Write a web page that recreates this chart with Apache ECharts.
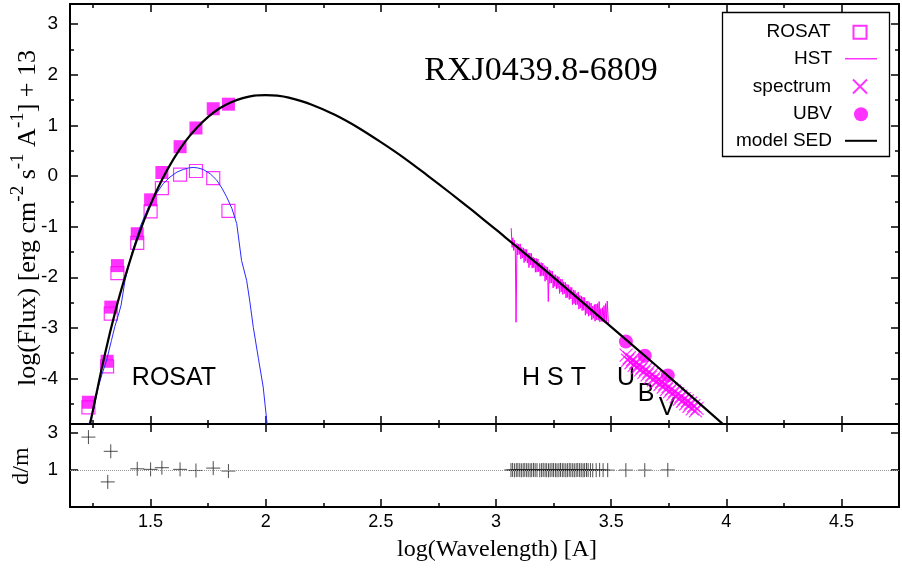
<!DOCTYPE html>
<html><head><meta charset="utf-8">
<script src="https://cdn.jsdelivr.net/npm/echarts@6/dist/echarts.min.js"></script>
<style>html,body{margin:0;padding:0;background:#fff}#c{width:902px;height:571px}</style>
</head><body><div id="c"></div>
<script>
// ---- data ----
const rosatX      = [1.230, 1.311, 1.327, 1.356, 1.442, 1.500, 1.549, 1.628, 1.697, 1.772, 1.838];
const rosatObsY   = [-4.57, -3.76, -2.72, -1.92, -1.32, -0.70, -0.24, 0.03, 0.10, -0.04, -0.69];
const rosatUnabsY = [-4.47, -3.66, -2.59, -1.77, -1.14, -0.47, 0.07, 0.58, 0.95, 1.33, 1.42];

const modelX = [1.237, 1.25, 1.30, 1.35, 1.40, 1.45, 1.50, 1.55, 1.60, 1.65, 1.70, 1.75, 1.80, 1.85, 1.90, 1.95, 2.00, 2.05, 2.10, 2.20, 2.30, 2.40, 2.50, 2.60, 2.70, 2.80, 2.90, 3.00, 3.20, 3.40, 3.60, 3.80, 4.00];
const modelY = [-4.91, -4.62, -3.55, -2.62, -1.83, -1.14, -0.56, -0.07, 0.34, 0.68, 0.95, 1.17, 1.34, 1.46, 1.54, 1.59, 1.60, 1.59, 1.55, 1.41, 1.21, 0.96, 0.67, 0.36, 0.02, -0.33, -0.69, -1.06, -1.81, -2.59, -3.37, -4.16, -4.96];

const absX = [1.232, 1.250, 1.273, 1.290, 1.309, 1.330, 1.345, 1.360, 1.372, 1.389, 1.420, 1.454, 1.490, 1.526, 1.555, 1.584, 1.615, 1.642, 1.665, 1.685, 1.705, 1.729, 1.760, 1.787, 1.810, 1.830, 1.853, 1.874, 1.895, 1.917, 1.930, 1.946, 1.968, 1.989, 2.006];
const absY = [-4.90, -4.66, -4.17, -3.90, -3.64, -3.25, -2.97, -2.75, -2.55, -2.06, -1.50, -1.01, -0.62, -0.34, -0.15, -0.02, 0.08, 0.13, 0.16, 0.17, 0.16, 0.13, 0.04, -0.08, -0.24, -0.41, -0.64, -0.94, -1.67, -2.06, -2.45, -2.99, -3.60, -4.17, -4.90];

const hstX = [3.066, 3.070, 3.073, 3.077, 3.080, 3.084, 3.087, 3.091, 3.094, 3.098,
  3.101, 3.105, 3.108, 3.112, 3.115, 3.119, 3.122, 3.126, 3.129, 3.133,
  3.136, 3.140, 3.143, 3.147, 3.150, 3.154, 3.157, 3.161, 3.164, 3.168,
  3.171, 3.175, 3.178, 3.182, 3.185, 3.189, 3.192, 3.196, 3.199, 3.203,
  3.206, 3.210, 3.213, 3.217, 3.220, 3.224, 3.227, 3.231, 3.234, 3.238,
  3.241, 3.245, 3.248, 3.252, 3.255, 3.259, 3.262, 3.266, 3.269, 3.273,
  3.276, 3.280, 3.283, 3.287, 3.290, 3.294, 3.297, 3.301, 3.304, 3.308,
  3.311, 3.315, 3.318, 3.322, 3.325, 3.329, 3.332, 3.336, 3.339, 3.343,
  3.346, 3.350, 3.353, 3.357, 3.360, 3.364, 3.367, 3.371, 3.374, 3.378,
  3.381, 3.385, 3.388, 3.392, 3.395, 3.399, 3.402, 3.406, 3.409, 3.413,
  3.416, 3.420, 3.423, 3.427, 3.430, 3.434, 3.437, 3.441, 3.444, 3.448,
  3.451, 3.455, 3.458, 3.462, 3.465, 3.469, 3.472, 3.476, 3.479, 3.483,
  3.486, 3.488];
const hstY = [-1.03, -1.41, -1.22, -1.47, -1.27, -1.48, -2.89, -1.33, -1.56, -1.35,
  -1.55, -1.34, -1.64, -1.41, -1.62, -1.42, -1.71, -1.44, -1.68, -1.45,
  -1.72, -1.52, -1.81, -1.52, -1.76, -1.53, -1.82, -1.60, -1.81, -1.62,
  -1.90, -1.63, -1.90, -1.64, -1.89, -1.71, -1.98, -1.71, -1.97, -1.72,
  -1.97, -1.77, -2.08, -1.79, -2.05, -1.80, -2.48, -1.85, -2.12, -1.87,
  -2.11, -1.88, -2.21, -1.95, -2.18, -1.95, -2.23, -1.98, -2.22, -1.99,
  -2.32, -2.04, -2.29, -2.04, -2.34, -2.09, -2.32, -2.10, -2.41, -2.14,
  -2.40, -2.15, -2.44, -2.20, -2.43, -2.20, -2.54, -2.25, -2.52, -2.26,
  -2.55, -2.32, -2.54, -2.29, -2.63, -2.36, -2.61, -2.37, -2.66, -2.39,
  -2.65, -2.40, -2.75, -2.47, -2.72, -2.47, -2.77, -2.50, -2.75, -2.51,
  -2.84, -2.57, -2.81, -2.54, -2.87, -2.53, -2.84, -2.52, -2.85, -2.48,
  -2.88, -2.62, -2.87, -2.60, -2.88, -2.56, -2.89, -2.52, -2.88, -2.47,
  -2.46, -2.92];

const specX = [3.565, 3.572, 3.579, 3.586, 3.593, 3.600, 3.607, 3.614, 3.621, 3.628, 3.635, 3.642, 3.649, 3.656, 3.663, 3.670, 3.677, 3.684, 3.691, 3.698, 3.705, 3.712, 3.719, 3.726, 3.733, 3.740, 3.747, 3.754, 3.761, 3.768, 3.775, 3.782, 3.789, 3.796, 3.803, 3.810, 3.817, 3.824, 3.831, 3.838, 3.845, 3.852, 3.859, 3.866, 3.873];
const specY = [-3.54, -3.64, -3.59, -3.69, -3.63, -3.74, -3.68, -3.79, -3.73, -3.83, -3.78, -3.88, -3.82, -3.93, -3.87, -3.98, -3.92, -4.03, -3.97, -4.07, -4.02, -4.12, -4.06, -4.17, -4.11, -4.22, -4.16, -4.26, -4.21, -4.31, -4.25, -4.36, -4.30, -4.41, -4.35, -4.45, -4.40, -4.50, -4.44, -4.55, -4.49, -4.60, -4.54, -4.64, -4.59];

const ubvX = [3.564, 3.646, 3.746];
const ubvY = [-3.27, -3.55, -3.94];

const dmRosatX = [1.230, 1.314, 1.327, 1.442, 1.500, 1.549, 1.628, 1.697, 1.772, 1.838];
const dmRosatY = [2.79, 0.36, 2.02, 1.07, 1.04, 1.13, 1.04, 0.98, 1.11, 0.95];
const dmHstX = [3.065, 3.072, 3.080, 3.088, 3.095, 3.103, 3.110, 3.118, 3.125, 3.133, 3.140, 3.148, 3.155, 3.163, 3.170, 3.178, 3.190, 3.198, 3.205, 3.213, 3.220, 3.228, 3.235, 3.243, 3.250, 3.258, 3.265, 3.273, 3.280, 3.288, 3.295, 3.303, 3.310, 3.318, 3.325, 3.333, 3.340, 3.348, 3.355, 3.363, 3.370, 3.378, 3.385, 3.393, 3.400, 3.410, 3.420, 3.435, 3.450, 3.465, 3.485];
const dmHstY = [1.00, 1.01, 0.99, 1.00, 1.01, 1.00, 0.99, 1.00, 1.01, 1.00, 1.00, 0.99, 1.00, 1.01, 1.00, 1.00, 0.99, 1.00, 1.01, 1.00, 1.00, 0.99, 1.00, 1.01, 1.00, 1.00, 0.99, 1.00, 1.01, 1.00, 1.00, 0.99, 1.00, 1.01, 1.00, 1.00, 0.99, 1.00, 1.01, 1.00, 1.00, 0.99, 1.00, 1.01, 1.00, 1.00, 0.99, 1.00, 1.01, 1.00, 1.00];
const dmUbvX = [3.564, 3.646, 3.746];
const dmUbvY = [1.00, 1.00, 1.01];

const xMajorTicks = [1.5, 2, 2.5, 3, 3.5, 4, 4.5];
const xMinorTicks = [1.25, 1.75, 2.25, 2.75, 3.25, 3.75, 4.25];
const yMajorTicks = [-4, -3, -2, -1, 0, 1, 2, 3];
const yMinorTicks = [-4.5, -3.5, -2.5, -1.5, -0.5, 0.5, 1.5, 2.5];
const dmTicks = [1, 3];

// ---- chart ----
const MAG = '#ff00ff';
const zip = (xs, ys) => xs.map((x, i) => [x, ys[i]]);
const SANS = 'Liberation Sans';
const SERIF = 'Liberation Serif';
const XMIN = 1.15, XMAX = 4.75;

function xAx(grid, pos, ticks, len, labels) {
  return {
    type: 'value', gridIndex: grid, position: pos, min: XMIN, max: XMAX,
    axisLine: { show: true, onZero: false, lineStyle: { color: '#000', width: 2 } },
    axisTick: { show: true, inside: true, length: len, customValues: ticks, lineStyle: { color: '#000', width: 1.5 } },
    axisLabel: labels ? { show: true, customValues: ticks, color: '#000', fontFamily: SANS, fontSize: 18, margin: 6 } : { show: false },
    splitLine: { show: false }
  };
}
function yAx(grid, pos, min, max, ticks, len, labels) {
  return {
    type: 'value', gridIndex: grid, position: pos, min: min, max: max,
    axisLine: { show: true, onZero: false, lineStyle: { color: '#000', width: 2 } },
    axisTick: { show: true, inside: true, length: len, customValues: ticks, lineStyle: { color: '#000', width: 1.5 } },
    axisLabel: labels ? { show: true, customValues: ticks, color: '#000', fontFamily: SANS, fontSize: 19, margin: 12 } : { show: false },
    splitLine: { show: false }
  };
}

const crossPath = 'path://M0,0L10,10M10,0L0,10';
const plusPath = 'path://M5,0L5,10M0,5L10,5';

function legendRow(item, cy, w, h, right, pad) {
  return {
    orient: 'vertical', right: right, top: cy - 8, align: 'right',
    itemWidth: w, itemHeight: h, padding: 0, selectedMode: false,
    data: [item],
    textStyle: { fontFamily: SANS, fontSize: 19, color: '#000', padding: [0, pad, 0, 0] }
  };
}

const option = {
  animation: false,
  backgroundColor: '#fff',
  grid: [
    { left: 70, top: 4, width: 829, height: 420, outerBoundsMode: 'none', containLabel: false },
    { left: 70, top: 424, width: 829, height: 83, outerBoundsMode: 'none', containLabel: false }
  ],
  xAxis: [
    xAx(0, 'bottom', xMajorTicks, 8, false),
    xAx(0, 'bottom', xMinorTicks, 4, false),
    xAx(0, 'top', xMajorTicks, 8, false),
    xAx(0, 'top', xMinorTicks, 4, false),
    xAx(1, 'bottom', xMajorTicks, 8, true),
    xAx(1, 'bottom', xMinorTicks, 4, false),
    xAx(1, 'top', xMajorTicks, 8, false),
    xAx(1, 'top', xMinorTicks, 4, false)
  ],
  yAxis: [
    yAx(0, 'left', -4.9, 3.4, yMajorTicks, 8, true),
    yAx(0, 'left', -4.9, 3.4, yMinorTicks, 4, false),
    yAx(0, 'right', -4.9, 3.4, yMajorTicks, 8, false),
    yAx(0, 'right', -4.9, 3.4, yMinorTicks, 4, false),
    yAx(1, 'left', -1, 3.5, dmTicks, 8, true),
    yAx(1, 'right', -1, 3.5, dmTicks, 8, false)
  ],
  legend: [
    legendRow({ name: 'ROSAT', icon: 'rect' }, 30.7, 13, 13, 34.5, 18),
    legendRow({ name: 'HST', icon: 'rect' }, 57.3, 32, 1.2, 25, 8),
    legendRow('spectrum', 85, 14, 14, 34, 17),
    legendRow({ name: 'UBV', icon: 'circle' }, 112.7, 14, 14, 34, 17),
    legendRow({ name: 'model SED', icon: 'rect' }, 139.3, 32, 2, 25, 8)
  ],
  graphic: [
    { type: 'rect', shape: { x: 722.5, y: 12.5, width: 167, height: 144 }, style: { fill: null, stroke: '#000', lineWidth: 1.3 }, z: 100, silent: true },
    { type: 'text', x: 541, y: 71, style: { text: 'RXJ0439.8-6809', fontFamily: SERIF, fontSize: 34, fill: '#000', align: 'center', verticalAlign: 'middle' }, silent: true },
    { type: 'text', x: 174, y: 378, style: { text: 'ROSAT', fontFamily: SANS, fontSize: 25, fill: '#000', align: 'center', verticalAlign: 'middle' }, silent: true },
    { type: 'text', x: 554, y: 378, style: { text: 'H S T', fontFamily: SANS, fontSize: 25, fill: '#000', align: 'center', verticalAlign: 'middle' }, silent: true },
    { type: 'text', x: 626, y: 378, style: { text: 'U', fontFamily: SANS, fontSize: 25, fill: '#000', align: 'center', verticalAlign: 'middle' }, silent: true },
    { type: 'text', x: 646, y: 394, style: { text: 'B', fontFamily: SANS, fontSize: 25, fill: '#000', align: 'center', verticalAlign: 'middle' }, silent: true },
    { type: 'text', x: 667, y: 408, style: { text: 'V', fontFamily: SANS, fontSize: 25, fill: '#000', align: 'center', verticalAlign: 'middle' }, silent: true },
    { type: 'text', x: 497, y: 550, style: { text: 'log(Wavelength) [A]', fontFamily: SERIF, fontSize: 24, fill: '#000', align: 'center', verticalAlign: 'middle' }, silent: true },
    { type: 'text', x: 22, y: 466, rotation: Math.PI / 2, style: { text: 'd/m', fontFamily: SERIF, fontSize: 24, fill: '#000', align: 'center', verticalAlign: 'middle' }, silent: true },
    { type: 'text', x: 25, y: 218, rotation: Math.PI / 2, silent: true,
      style: {
        text: '{n|log(Flux) [erg cm}{s|-2}{n| s}{s|-1}{n| A}{s|-1}{n|] + 13}',
        align: 'center', verticalAlign: 'middle', fill: '#000', fontFamily: SERIF, fontSize: 26,
        rich: {
          n: { fontFamily: SERIF, fontSize: 26, fill: '#000', lineHeight: 32, verticalAlign: 'bottom' },
          s: { fontFamily: SERIF, fontSize: 19, fill: '#000', lineHeight: 19, verticalAlign: 'top' }
        }
      } }
  ],
  series: [
    { name: 'ROSAT', type: 'scatter', xAxisIndex: 0, yAxisIndex: 0, data: zip(rosatX, rosatObsY),
      symbol: 'rect', symbolSize: 13, itemStyle: { color: 'rgba(255,0,255,0)', borderColor: MAG, borderWidth: 1.2 }, silent: true },
    { name: 'ROSATunabs', type: 'scatter', xAxisIndex: 0, yAxisIndex: 0, data: zip(rosatX, rosatUnabsY),
      symbol: 'rect', symbolSize: 13, itemStyle: { color: MAG }, silent: true },
    { name: 'absorbed', type: 'line', xAxisIndex: 0, yAxisIndex: 0, data: zip(absX, absY),
      symbol: 'none', lineStyle: { color: '#2a2aff', width: 1 }, silent: true },
    { name: 'HST', type: 'line', xAxisIndex: 0, yAxisIndex: 0, data: zip(hstX, hstY),
      symbol: 'none', lineStyle: { color: MAG, width: 1 }, itemStyle: { color: MAG }, silent: true },
    { name: 'spectrum', type: 'scatter', xAxisIndex: 0, yAxisIndex: 0, data: zip(specX, specY),
      symbol: crossPath, symbolSize: 13, itemStyle: { color: 'rgba(255,0,255,0)', borderColor: MAG, borderWidth: 1.2 }, silent: true },
    { name: 'UBV', type: 'scatter', xAxisIndex: 0, yAxisIndex: 0, data: zip(ubvX, ubvY),
      symbol: 'circle', symbolSize: 14, itemStyle: { color: MAG }, silent: true },
    { name: 'model SED', type: 'line', xAxisIndex: 0, yAxisIndex: 0, data: zip(modelX, modelY),
      symbol: 'none', smooth: 0.3, lineStyle: { color: '#000', width: 2.2 }, itemStyle: { color: '#000' }, silent: true },
    { name: 'dmRosat', type: 'scatter', xAxisIndex: 4, yAxisIndex: 4, data: zip(dmRosatX, dmRosatY),
      symbol: plusPath, symbolSize: 14, itemStyle: { color: 'rgba(0,0,0,0)', borderColor: '#222', borderWidth: 1 }, silent: true,
      markLine: { silent: true, symbol: 'none', label: { show: false },
        lineStyle: { color: '#999', type: 'dotted', width: 1 }, data: [{ yAxis: 1 }] } },
    { name: 'dmHst', type: 'scatter', xAxisIndex: 4, yAxisIndex: 4, data: zip(dmHstX, dmHstY),
      symbol: plusPath, symbolSize: 14, itemStyle: { color: 'rgba(0,0,0,0)', borderColor: '#222', borderWidth: 1 }, silent: true },
    { name: 'dmUbv', type: 'scatter', xAxisIndex: 4, yAxisIndex: 4, data: zip(dmUbvX, dmUbvY),
      symbol: plusPath, symbolSize: 14, itemStyle: { color: 'rgba(0,0,0,0)', borderColor: '#222', borderWidth: 1 }, silent: true }
  ]
};
const chart = echarts.init(document.getElementById('c'), null, { renderer: 'canvas' });
chart.setOption(option);
</script>
</body></html>
